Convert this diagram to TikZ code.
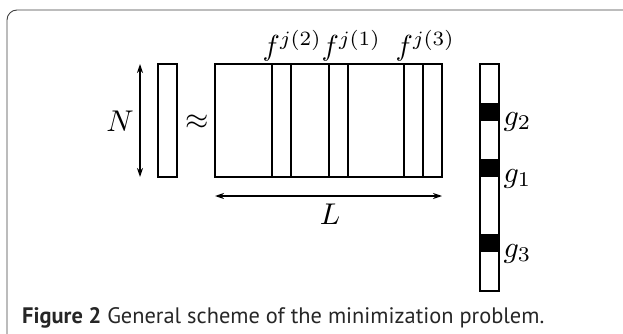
\documentclass[tikz,border=0pt]{standalone}
\usepackage{fontspec}
\setsansfont{PT Sans}
\usetikzlibrary{arrows.meta}
\begin{document}
\begin{tikzpicture}[x=1pt,y=-1pt,
  box/.style={draw, rectangle, inner sep=0pt, outer sep=0pt, line width=1.2pt, anchor=north west},
  band/.style={fill=black, rectangle, inner sep=0pt, outer sep=0pt, anchor=north west, minimum width=19pt, minimum height=18pt},
  lab/.style={scale=3.0, inner sep=0pt},
  flab/.style={scale=2.9, inner sep=0pt, anchor=base west},
  dim/.style={{Stealth[length=9pt,width=6pt]}-{Stealth[length=9pt,width=6pt]}, line width=1.2pt},
  frame/.style={draw=black!75, line width=0.9pt, rounded corners=10pt}]
\useasboundingbox (0,0) rectangle (623,334);
\draw[frame] (7,10) rectangle (660,380);
% matrix and columns
\node[box, minimum width=227pt, minimum height=113pt] (M) at (215,64) {};
\node[box, minimum width=19pt, minimum height=113pt] (c2) at (272,64) {};
\node[box, minimum width=19pt, minimum height=113pt] (c1) at (329,64) {};
\node[box, minimum width=19pt, minimum height=113pt] (c3) at (404,64) {};
% left vector
\node[box, minimum width=19pt, minimum height=113pt] (v) at (158,64) {};
% right vector
\node[band] (b2) at (480,103) {};
\node[band] (b1) at (480,159) {};
\node[band] (b3) at (480,234) {};
\node[box, minimum width=19pt, minimum height=227pt] (g) at (480,64) {};
% N arrow
\coordinate (nt) at (140,64);
\coordinate (nb) at (140,177);
\draw[dim] (nt) -- (nb);
\node[lab] (N) at (120,121) {$N$};
\node[lab] (approx) at (197,122) {$\approx$};
% L arrow
\coordinate (ll) at (215,196);
\coordinate (lr) at (442,196);
\draw[dim] (ll) -- (lr);
\node[lab] (L) at (330,214) {$L$};
% f labels
\node[flab] (f2) at (262,56) {$f^{j(2)}$};
\node[flab] (f1) at (321,56) {$f^{j(1)}$};
\node[flab] (f3) at (395,56) {$f^{j(3)}$};
% g labels
\node[lab, anchor=base west] (g2) at (503,125) {$g_2$};
\node[lab, anchor=base west] (g1) at (503,182) {$g_1$};
\node[lab, anchor=base west] (g3) at (503,257) {$g_3$};
% caption
\node[font=\sffamily\fontsize{22.4}{24}\selectfont, anchor=base west, inner sep=0pt, text=black!85] (cap) at (22,323) {\textbf{Figure 2} General scheme of the minimization problem.};
\end{tikzpicture}
\end{document}
